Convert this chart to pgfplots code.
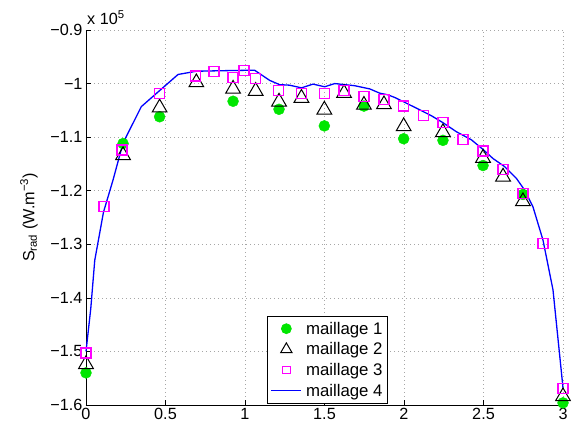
\documentclass[border=0pt]{standalone}
\usepackage{fontspec}
\setmainfont{Liberation Sans}
\usepackage{pgfplots}
\pgfplotsset{compat=1.18}
\definecolor{mgreen}{RGB}{0,230,0}
\definecolor{mmag}{RGB}{255,0,255}
\definecolor{mblue}{RGB}{0,0,255}
\pgfplotsset{
  markleg/.style={legend image code/.code={\draw[mark repeat=2,mark phase=2,##1, mark size=#1] plot coordinates {(0bp,0bp) (15bp,0bp) (30bp,0bp)};}},
  lineleg/.style={legend image code/.code={\draw[##1] (0bp,0bp) -- (30bp,0bp);}},
}
\newcommand{\bigf}{\fontsize{16.2bp}{19bp}\selectfont}
\newcommand{\legf}{\fontsize{16.8bp}{19bp}\selectfont}
\begin{document}
\begin{tikzpicture}
\begin{axis}[
  scale only axis,
  width=477bp, height=375bp,
  xmin=0, xmax=3, ymin=-1.6, ymax=-0.9,
  axis lines=left,
  axis line style={-, line width=0.7bp},
  tick align=inside,
  major tick length=5bp,
  tick style={line width=0.6bp, black},
  xtick={0,0.5,1,1.5,2,2.5,3},
  ytick={-1.6,-1.5,-1.4,-1.3,-1.2,-1.1,-1,-0.9},
  yticklabels={−1.6,−1.5,−1.4,−1.3,−1.2,−1.1,−1,−0.9},
  /pgf/number format/assume math mode=true,
  font=\bigf,
  ticklabel style={font=\bigf},
  grid=major,
  major grid style={gray!70, line width=0.6bp, dash pattern=on 0.8bp off 3.2bp},
  ylabel={S\textsubscript{rad} (W.m\textsuperscript{−3})},
  ylabel style={at={(axis description cs:-0.1195,0.5)}, anchor=center, font=\bigf},
  legend style={at={(rel axis cs:0.633,0.003)}, anchor=south east, draw=black, line width=0.7bp,
    fill=white, inner xsep=3bp, inner ysep=4bp, row sep=3bp,
    font=\legf,
    nodes={inner sep=2bp, font=\legf},
    /tikz/every odd column/.append style={column sep=2bp}},
  legend cell align=left,
  clip=false,
]
\addplot[only marks, mark=*, mark size=5.5bp, draw=mgreen, fill=mgreen,
  mark options={fill=mgreen, draw=mgreen}, markleg=5bp]
coordinates {
(0,-1.540) (0.233,-1.112) (0.463,-1.062) (0.925,-1.033) (1.214,-1.048)
(1.499,-1.079) (1.748,-1.042) (1.998,-1.103) (2.245,-1.106) (2.497,-1.153)
(2.748,-1.207) (3.0,-1.596)};
\addlegendentry{maillage 1}
\addplot[only marks, mark=triangle, mark size=8.5bp, draw=black, mark options={draw=black, line width=1bp, fill=none}, markleg=6.5bp]
coordinates {
(0,-1.524) (0.233,-1.134) (0.463,-1.045) (0.694,-0.998) (0.925,-1.010)
(1.067,-1.014) (1.214,-1.034) (1.355,-1.027) (1.499,-1.049) (1.623,-1.018)
(1.748,-1.040) (1.874,-1.039) (1.998,-1.080) (2.245,-1.091) (2.497,-1.139)
(2.623,-1.174) (2.748,-1.220) (3.0,-1.584)};
\addlegendentry{maillage 2}
\addplot[only marks, mark=square, mark size=5bp, draw=mmag, mark options={draw=mmag, fill=none, line width=1.2bp}, markleg=3.8bp]
coordinates {
(0,-1.503) (0.113,-1.230) (0.226,-1.124) (0.463,-1.018) (0.690,-0.986)
(0.805,-0.978) (0.925,-0.988) (0.994,-0.975) (1.067,-0.991) (1.212,-1.013)
(1.355,-1.018) (1.499,-1.018) (1.623,-1.013) (1.748,-1.024) (1.874,-1.029)
(1.998,-1.042) (2.124,-1.060) (2.245,-1.073) (2.371,-1.105) (2.497,-1.126)
(2.623,-1.161) (2.748,-1.205) (2.874,-1.298) (3.0,-1.569)};
\addlegendentry{maillage 3}
\addplot[draw=mblue, line width=1.3bp, no markers, lineleg]
coordinates {
(0,-1.50) (0.03,-1.42) (0.055,-1.33) (0.11,-1.24) (0.17,-1.18)
(0.233,-1.111) (0.348,-1.043) (0.579,-0.983) (0.694,-0.977) (0.85,-0.976)
(1.06,-0.975) (1.155,-0.994) (1.217,-1.002) (1.28,-1.003) (1.355,-1.008)
(1.428,-1.001) (1.501,-1.006) (1.564,-1.000) (1.69,-1.004) (1.785,-1.010)
(1.848,-1.018) (1.899,-1.021) (1.942,-1.026) (2.004,-1.035) (2.099,-1.049)
(2.172,-1.060) (2.245,-1.073) (2.33,-1.090) (2.424,-1.105) (2.497,-1.123)
(2.56,-1.140) (2.633,-1.155) (2.707,-1.177) (2.759,-1.199) (2.811,-1.230)
(2.874,-1.292) (2.937,-1.385) (3.0,-1.568)};
\addlegendentry{maillage 4}
\node[anchor=base west, inner sep=0pt, font=\bigf] at ([xshift=1bp, yshift=5bp]rel axis cs:0,1) {x 10\textsuperscript{5}};
\end{axis}
\pgfresetboundingbox
\path[use as bounding box] (-86bp,-25bp) rectangle (501bp,405bp);
\end{tikzpicture}
\end{document}
